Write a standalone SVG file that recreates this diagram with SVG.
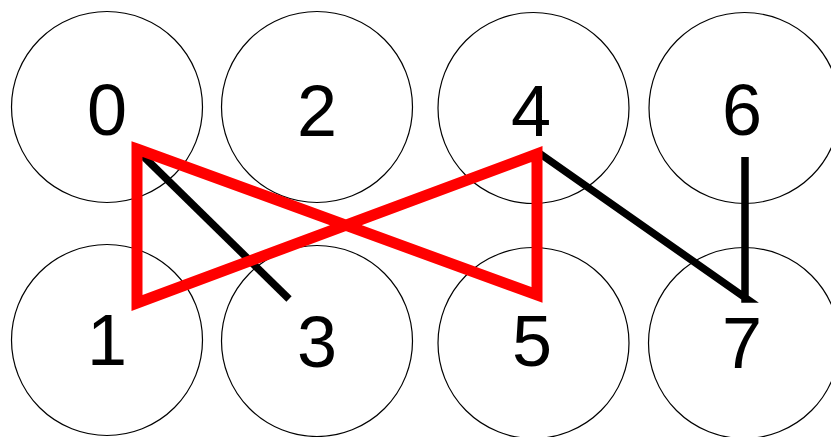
<svg xmlns="http://www.w3.org/2000/svg" width="831" height="437" viewBox="0 0 831 437">
<style>
.c{fill:none;stroke:#000;stroke-width:1.2}
.t{font-family:"Liberation Sans",Arial,sans-serif;font-size:72px;fill:#000;text-anchor:middle}
.r{fill:none;stroke:#f00;stroke-width:11;stroke-linejoin:miter}
.k{fill:none;stroke:#000;stroke-width:7.5}
</style>
<rect width="831" height="437" fill="#fff"/>
<g id="n0"><circle class="c" cx="107" cy="107" r="95.5"/><text class="t" x="107" y="135">0</text></g>
<g id="n2"><circle class="c" cx="317" cy="107" r="95.5"/><text class="t" x="317" y="136">2</text></g>
<g id="n4"><circle class="c" cx="533.5" cy="108" r="95.5"/><text class="t" x="531" y="136">4</text></g>
<g id="n6"><circle class="c" cx="744.5" cy="108" r="95.5"/><text class="t" x="742" y="135">6</text></g>
<g id="n1"><circle class="c" cx="107" cy="340" r="95.5"/><text class="t" x="107" y="365">1</text></g>
<g id="n3"><circle class="c" cx="317" cy="341" r="95.5"/><text class="t" x="317" y="367">3</text></g>
<g id="n5"><circle class="c" cx="533.5" cy="343" r="95.5"/><text class="t" x="532" y="366">5</text></g>
<g id="n7"><circle class="c" cx="744" cy="343" r="95.5"/><text class="t" x="742" y="368">7</text></g>
<g id="edges">
<line class="k" x1="139" y1="152" x2="289" y2="299"/>
<polyline class="k" points="539,153 747,299 745,299 745,157"/>
<polygon class="r" points="137,149 537,295 537,154 137,303"/>
</g>
</svg>
